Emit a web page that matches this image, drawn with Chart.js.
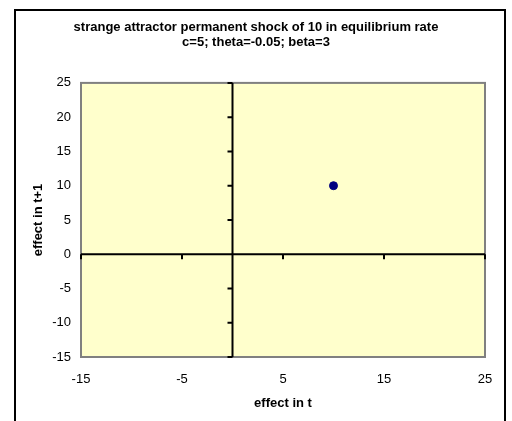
<!DOCTYPE html>
<html>
<head>
<meta charset="utf-8">
<script src="https://cdn.jsdelivr.net/npm/chart.js@4/dist/chart.umd.min.js"></script>
<style>
  html, body { margin: 0; padding: 0; background: #fff; }
  #wrap { width: 512px; height: 421px; }
</style>
</head>
<body>
<div id="wrap"><canvas id="attractor"></canvas></div>
<script>
const titleLines = [
  "strange attractor permanent shock of 10 in equilibrium rate",
  "c=5; theta=-0.05; beta=3"
];
const xAxisLabel = "effect in t";
const yAxisLabel = "effect in t+1";
const xTicks = [-15, -5, 5, 15, 25];
const yTicks = [-15, -10, -5, 0, 5, 10, 15, 20, 25];
const effectT = [10];
const effectT1 = [10];

const FONT = "'Liberation Sans', Arial, sans-serif";

// white page, black outer frame, yellow plot area with grey border
const framePlugin = {
  id: "frame",
  beforeDraw(chart) {
    const { ctx, chartArea: a } = chart;
    ctx.save();
    ctx.fillStyle = "#ffffff";
    ctx.fillRect(0, 0, chart.width, chart.height);
    ctx.strokeStyle = "#000000";
    ctx.lineWidth = 2;
    ctx.strokeRect(15, 10, 490, 430);
    ctx.fillStyle = "#ffffcc";
    ctx.fillRect(a.left, a.top, a.right - a.left, a.bottom - a.top);
    ctx.strokeStyle = "#808080";
    ctx.strokeRect(a.left, a.top, a.right - a.left, a.bottom - a.top);
    ctx.restore();
  }
};

// axes crossing at zero, with their small tick marks
const zeroAxesPlugin = {
  id: "zeroAxes",
  beforeDatasetsDraw(chart) {
    const { ctx, chartArea: a, scales: { x, y } } = chart;
    const x0 = x.getPixelForValue(0);
    const y0 = y.getPixelForValue(0);
    ctx.save();
    ctx.strokeStyle = "#000000";
    ctx.lineWidth = 2;
    ctx.beginPath();
    ctx.moveTo(x0, a.top);
    ctx.lineTo(x0, a.bottom);
    ctx.moveTo(a.left, y0);
    ctx.lineTo(a.right, y0);
    yTicks.forEach(v => {
      const py = y.getPixelForValue(v);
      ctx.moveTo(x0 - 5, py);
      ctx.lineTo(x0, py);
    });
    xTicks.forEach(v => {
      const px = x.getPixelForValue(v);
      ctx.moveTo(px, y0);
      ctx.lineTo(px, y0 + 5);
    });
    ctx.stroke();
    ctx.restore();
  }
};

new Chart(document.getElementById("attractor"), {
  type: "scatter",
  data: {
    datasets: [{
      data: effectT.map((v, i) => ({ x: v, y: effectT1[i] })),
      backgroundColor: "#000080",
      borderColor: "#000080",
      pointRadius: 4,
      pointBorderWidth: 1
    }]
  },
  options: {
    responsive: true,
    maintainAspectRatio: false,
    animation: false,
    layout: { padding: 0 },
    plugins: {
      legend: { display: false },
      tooltip: { enabled: false },
      title: {
        display: true,
        text: titleLines,
        color: "#000000",
        font: { family: FONT, size: 13, weight: "bold", lineHeight: 1.15 },
        padding: { top: 20, bottom: 33 }
      }
    },
    scales: {
      x: {
        type: "linear",
        min: xTicks[0],
        max: xTicks[xTicks.length - 1],
        afterBuildTicks(s) { s.ticks = xTicks.map(v => ({ value: v })); },
        afterFit(s) { s.height = 64; },
        grid: { display: false, drawTicks: false },
        border: { display: false },
        ticks: { color: "#000000", font: { family: FONT, size: 13 }, padding: 15, maxRotation: 0 },
        title: {
          display: true,
          text: xAxisLabel,
          color: "#000000",
          font: { family: FONT, size: 13, weight: "bold" },
          padding: { top: 0, bottom: 10 }
        }
      },
      y: {
        type: "linear",
        min: yTicks[0],
        max: yTicks[yTicks.length - 1],
        afterBuildTicks(s) { s.ticks = yTicks.map(v => ({ value: v })); },
        afterFit(s) { s.width = 81; },
        grid: { display: false, drawTicks: false },
        border: { display: false },
        ticks: { color: "#000000", font: { family: FONT, size: 13 }, padding: 10 },
        title: {
          display: true,
          text: yAxisLabel,
          color: "#000000",
          font: { family: FONT, size: 13, weight: "bold" },
          padding: { top: 31, bottom: 0 }
        }
      },
      // empty right margin so the title stays centred on the page
      yRight: {
        type: "linear",
        position: "right",
        display: true,
        afterFit(s) { s.width = 27; },
        grid: { display: false, drawTicks: false },
        border: { display: false },
        ticks: { display: false }
      }
    }
  },
  plugins: [framePlugin, zeroAxesPlugin]
});
</script>
</body>
</html>
